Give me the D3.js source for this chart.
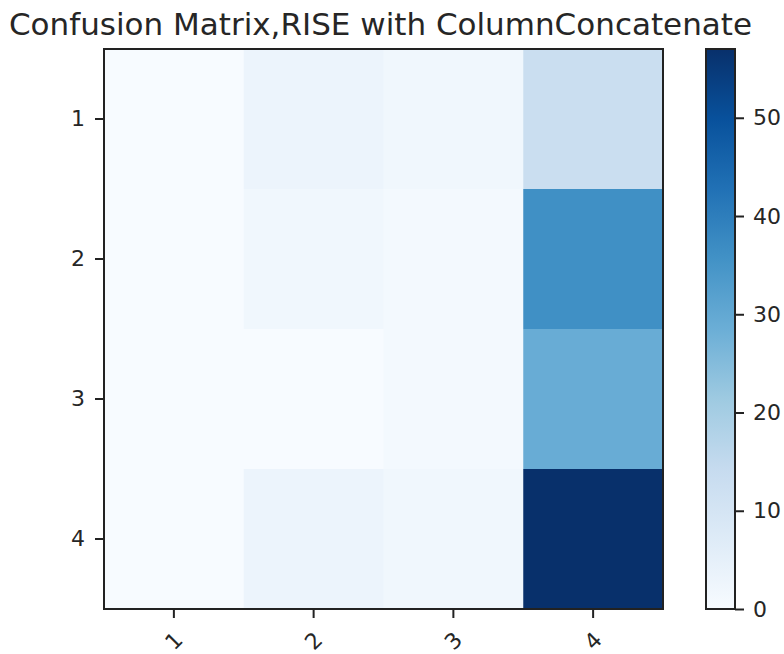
<!DOCTYPE html>
<html>
<head>
<meta charset="utf-8">
<script src="https://cdn.jsdelivr.net/npm/d3@7"></script>
<style>
  body { margin: 0; background: #fff; }
  text { font-family: "DejaVu Sans", sans-serif; fill: #262626; }
</style>
</head>
<body>
<div id="chart"></div>
<script>
var classLabels = ["1", "2", "3", "4"];
// rows = true class, columns = predicted class
var row1 = [0, 3, 2, 13];
var row2 = [0, 2, 1, 36];
var row3 = [0, 0, 1, 29];
var row4 = [0, 3, 2, 57];
var matrixRows = [row1, row2, row3, row4];
var colorbarTicks = [0, 10, 20, 30, 40, 50];
var titleText = "Confusion Matrix,RISE with ColumnConcatenate";

// matplotlib "Blues" control points
var bluesStops = ["#f7fbff", "#deebf7", "#c6dbef", "#9ecae1", "#6baed6", "#4292c6", "#2171b5", "#08519c", "#08306b"];

(function () {
	var W = 784, H = 654;
	var pLeft = 104, pRight = 663, pTop = 49, pBottom = 609;
	var cbLeft = 706, cbRight = 735;
	var tickFont = "22px";

	var cells = [];
	matrixRows.forEach(function (r, i) {
		r.forEach(function (v, j) {
			cells.push({ row: classLabels[i], col: classLabels[j], value: v });
		});
	});

	var vmax = d3.max(cells, function (d) { return d.value; });
	var vmin = d3.min(cells, function (d) { return d.value; });

	var color = d3.scaleLinear()
		.domain(bluesStops.map(function (c, i) { return vmin + (vmax - vmin) * i / (bluesStops.length - 1); }))
		.range(bluesStops)
		.interpolate(d3.interpolateRgb);

	var x = d3.scaleBand().domain(classLabels).range([pLeft, pRight]);
	var y = d3.scaleBand().domain(classLabels).range([pTop, pBottom]);

	var svg = d3.select("#chart").append("svg")
		.attr("width", W)
		.attr("height", H);

	// cells
	svg.append("g").selectAll("rect")
		.data(cells)
		.enter()
		.append("rect")
		.attr("x", function (d) { return x(d.col); })
		.attr("y", function (d) { return y(d.row); })
		.attr("width", x.bandwidth() + 0.5)
		.attr("height", y.bandwidth() + 0.5)
		.attr("fill", function (d) { return color(d.value); });

	// frame
	svg.append("rect")
		.attr("x", pLeft).attr("y", pTop)
		.attr("width", pRight - pLeft).attr("height", pBottom - pTop)
		.attr("fill", "none").attr("stroke", "#222").attr("stroke-width", 2);

	// axes
	var gy = svg.append("g")
		.attr("transform", "translate(" + pLeft + ",0)")
		.call(d3.axisLeft(y).tickSize(9).tickPadding(10));
	gy.select(".domain").remove();
	gy.selectAll("text").style("font-size", tickFont).attr("fill", "#262626");
	gy.selectAll("line").attr("stroke", "#222").attr("stroke-width", 2);

	var gx = svg.append("g")
		.attr("transform", "translate(0," + pBottom + ")")
		.call(d3.axisBottom(x).tickSize(9).tickFormat(""));
	gx.select(".domain").remove();
	gx.selectAll("line").attr("stroke", "#222").attr("stroke-width", 2);

	svg.append("g").selectAll("text")
		.data(classLabels)
		.enter()
		.append("text")
		.attr("transform", function (d) {
			return "translate(" + (x(d) + x.bandwidth() / 2) + "," + (pBottom + 32) + ") rotate(-45)";
		})
		.attr("text-anchor", "middle")
		.attr("dominant-baseline", "central")
		.style("font-size", tickFont)
		.text(function (d) { return d; });

	// title
	svg.append("text")
		.attr("x", (pLeft + pRight) / 2 - 3)
		.attr("y", 35)
		.attr("text-anchor", "middle")
		.style("font-size", "31px")
		.text(titleText);

	// colorbar
	var grad = svg.append("defs").append("linearGradient")
		.attr("id", "cbgrad")
		.attr("x1", "0").attr("y1", "1").attr("x2", "0").attr("y2", "0");
	bluesStops.forEach(function (c, i) {
		grad.append("stop")
			.attr("offset", (i / (bluesStops.length - 1)) * 100 + "%")
			.attr("stop-color", c);
	});

	var cbScale = d3.scaleLinear().domain([vmin, vmax]).range([pBottom, pTop]);

	svg.append("rect")
		.attr("x", cbLeft).attr("y", pTop)
		.attr("width", cbRight - cbLeft).attr("height", pBottom - pTop)
		.attr("fill", "url(#cbgrad)")
		.attr("stroke", "#222").attr("stroke-width", 2);

	var gcb = svg.append("g")
		.attr("transform", "translate(" + cbRight + ",0)")
		.call(d3.axisRight(cbScale).tickValues(colorbarTicks).tickSize(9).tickPadding(9));
	gcb.select(".domain").remove();
	gcb.selectAll("text").style("font-size", tickFont).attr("fill", "#262626");
	gcb.selectAll("line").attr("stroke", "#222").attr("stroke-width", 2);
})();
</script>
</body>
</html>
